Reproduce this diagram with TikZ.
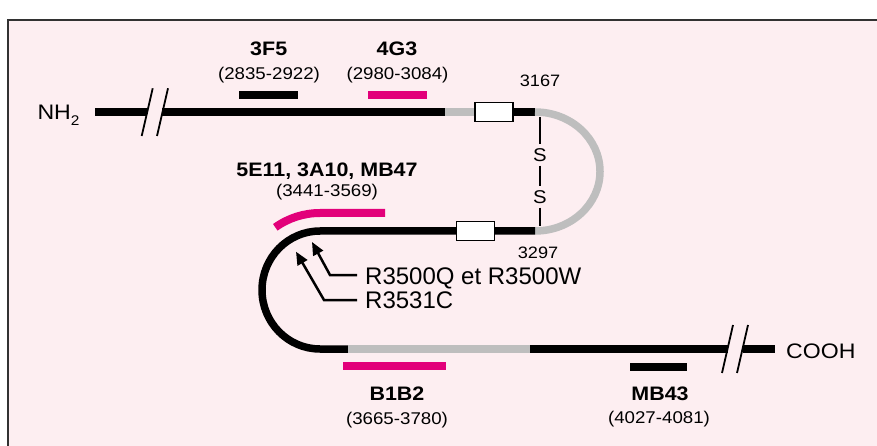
\documentclass[tikz,border=0pt]{standalone}
\usepackage{fontspec}
\setmainfont{Liberation Sans}
\newfontfamily\wsf[FakeStretch=1.1]{Liberation Sans}
\usetikzlibrary{arrows.meta}
\definecolor{bgpink}{RGB}{253,238,241}
\definecolor{mag}{RGB}{226,0,122}
\definecolor{lgray}{RGB}{190,190,190}
\definecolor{framegray}{RGB}{50,50,50}
\begin{document}
\begin{tikzpicture}[x=1pt,y=-1pt,
  chain/.style={line width=7.5pt},
  blk/.style={chain,draw=black},
  gry/.style={chain,draw=lgray},
  bar/.style={line width=8pt},
  boxn/.style={draw=black,line width=1.2pt,fill=white,minimum width=38pt,minimum height=19pt,inner sep=0pt},
  slash/.style={line width=1.8pt},
  ssline/.style={line width=1.1pt},
  ptr/.style={line width=2.5pt,-{Triangle[length=13pt,width=11pt]}},
  lblb/.style={font=\wsf\bfseries\fontsize{19.5}{20}\selectfont,anchor=base,inner sep=0pt},
  lbln/.style={font=\wsf\fontsize{17}{18}\selectfont,anchor=base,inner sep=0pt},
  posl/.style={font=\wsf\fontsize{16.5}{18}\selectfont,anchor=base,inner sep=0pt},
  mut/.style={font=\fontsize{24}{26}\selectfont,anchor=base west,inner sep=0pt},
  term/.style={font=\wsf\fontsize{21}{22}\selectfont,anchor=base west,inner sep=0pt},
  snode/.style={font=\wsf\fontsize{18.5}{20}\selectfont,inner xsep=1pt,inner ysep=4pt}
]
\useasboundingbox (0,0) rectangle (877,446);
\fill[white] (0,0) rectangle (877,446);
\draw[fill=bgpink,draw=framegray,line width=1.5pt] (8,20) rectangle (895,470);

% coordinates of the chain
\coordinate (n0) at (95,112);
\coordinate (b1) at (147,112);
\coordinate (b2) at (162,112);
\coordinate (g1) at (445,112);
\coordinate (tbc) at (494,112);
\coordinate (t1) at (535,112);
\coordinate (t2) at (535,231);
\coordinate (bbc) at (475.5,231);
\coordinate (lc) at (320,231);
\coordinate (g2) at (348,349);
\coordinate (g3) at (530,349);
\coordinate (b3) at (727.5,349);
\coordinate (b4) at (742.5,349);
\coordinate (c0) at (775,349);

% chain
\draw[blk] (n0) -- (b1);
\draw[blk] (b2) -- (g1);
\draw[gry] (g1) -- (tbc);
\draw[blk] (tbc) -- (t1);
\draw[gry] (t1) arc[start angle=-90, end angle=90, x radius=65, y radius=59.5];
\draw[blk] (t2) -- (lc) arc[start angle=-90, end angle=-270, x radius=58, y radius=59] -- (g2);
\draw[gry] (g2) -- (g3);
\draw[blk] (g3) -- (b3);
\draw[blk] (b4) -- (c0);

\node[boxn] (tbox) at (tbc) {};
\node[boxn] (bbox) at (bbc) {};

% break marks
\draw[slash] (141.7,136) -- (152.7,88.3);
\draw[slash] (157,136) -- (168,88.3);
\draw[slash] (722,373) -- (733,325);
\draw[slash] (737,373) -- (748,325);

% disulfide
\coordinate (ss1) at (540,117);
\coordinate (ss2) at (540,226);
\node[snode] (s1) at (540,155) {S};
\node[snode] (s2) at (540,197) {S};
\draw[ssline] (ss1) -- (s1);
\draw[ssline] (s1) -- (s2);
\draw[ssline] (s2) -- (ss2);

% epitope bars
\draw[bar,black] (239,95) -- (298,95);
\draw[bar,mag] (368,95) -- (427,95);
\draw[bar,mag] (385,213) -- (320,213) arc[start angle=-90, end angle=-125.5, radius=77];
\draw[bar,mag] (343,366) -- (446,366);
\draw[bar,black] (630,366.5) -- (687,366.5);

% labels
\node[lblb] (l3f5) at (268.7,56) {3F5};
\node[lbln] (r3f5) at (269,80) {(2835-2922)};
\node[lblb] (l4g3) at (397,56) {4G3};
\node[lbln] (r4g3) at (397.5,80) {(2980-3084)};
\node[posl] (p3167) at (540,86.5) {3167};
\node[posl] (p3297) at (538,258.3) {3297};
\node[lblb] (l5e11) at (327,176.7) {5E11, 3A10, MB47};
\node[lbln] (r5e11) at (327,196.7) {(3441-3569)};
\node[lblb] (lb1b2) at (397,400.7) {B1B2};
\node[lbln] (rb1b2) at (397,424) {(3665-3780)};
\node[lblb] (lmb43) at (660,400) {MB43};
\node[lbln] (rmb43) at (659,423) {(4027-4081)};
\node[term] (nh2) at (37.3,120) {NH\raisebox{-6pt}{\fontsize{14}{14}\selectfont 2}};
\node[term] (cooh) at (786,358.3) {COOH};

% mutations
\node[mut] (mut1) at (365,284) {R3500Q et R3500W};
\node[mut] (mut2) at (365,308) {R3531C};
\coordinate (a1s) at (357,275);
\coordinate (a1b) at (330,275);
\coordinate (a1t) at (312,242);
\coordinate (a2s) at (357,300);
\coordinate (a2b) at (324,300);
\coordinate (a2t) at (296,251.7);
\draw[ptr] (a1s) -- (a1b) -- (a1t);
\draw[ptr] (a2s) -- (a2b) -- (a2t);
\end{tikzpicture}
\end{document}
